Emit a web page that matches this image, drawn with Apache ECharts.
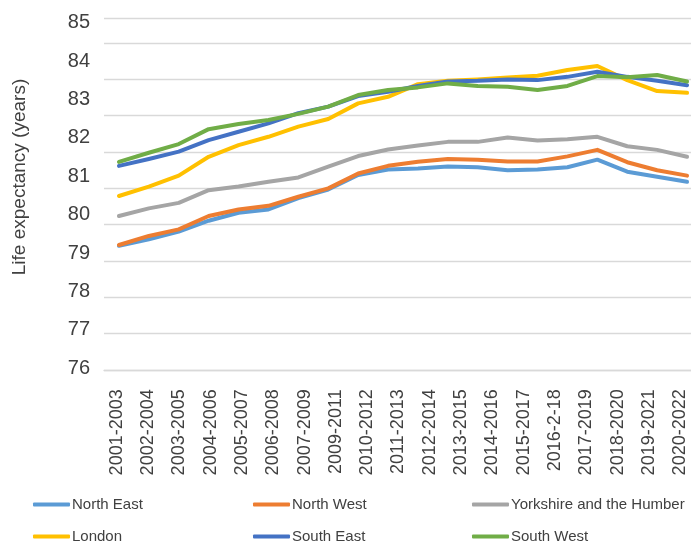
<!DOCTYPE html>
<html>
<head>
<meta charset="utf-8">
<script src="https://cdn.jsdelivr.net/npm/echarts@6/dist/echarts.min.js"></script>
<style>
html, body { margin: 0; padding: 0; background: #fff; }
#chart { width: 691px; height: 547px; }
</style>
</head>
<body>
<div id="chart"></div>
<script>
// periods the values belong to (20 of them)
const periods = ['2001-2003', '2002-2004', '2003-2005', '2004-2006', '2005-2007', '2006-2008', '2007-2009',
	'2008-2010', '2009-2011', '2010-2012', '2011-2013', '2012-2014', '2013-2015', '2014-2016', '2015-2017',
	'2016-2018', '2017-2019', '2018-2020', '2019-2021', '2020-2022']
// labels printed under the axis (the source skips 2008-2010)
const tickLabels = ['2001-2003', '2002-2004', '2003-2005', '2004-2006', '2005-2007', '2006-2008', '2007-2009',
	'2009-2011', '2010-2012', '2011-2013', '2012-2014', '2013-2015', '2014-2016', '2015-2017', '2016-2-18',
	'2017-2019', '2018-2020', '2019-2021', '2020-2022']

const northEast = [79.42, 79.6, 79.81, 80.11, 80.33, 80.42, 80.73, 80.97, 81.37, 81.52,
	81.55, 81.6, 81.58, 81.5, 81.52, 81.58, 81.79, 81.46, 81.32, 81.18]
const northWest = [79.44, 79.69, 79.87, 80.24, 80.42, 80.52, 80.77, 81.0, 81.41, 81.62,
	81.73, 81.81, 81.79, 81.74, 81.74, 81.88, 82.06, 81.72, 81.5, 81.35]
const yorkshire = [80.24, 80.45, 80.6, 80.95, 81.05, 81.18, 81.3, 81.6, 81.89, 82.07,
	82.18, 82.28, 82.28, 82.4, 82.32, 82.35, 82.42, 82.16, 82.06, 81.87]
const london = [80.79, 81.05, 81.35, 81.87, 82.19, 82.42, 82.7, 82.91, 83.34, 83.52,
	83.87, 83.96, 84.0, 84.05, 84.1, 84.26, 84.37, 83.98, 83.68, 83.63]
const southEast = [81.62, 81.81, 82.01, 82.33, 82.56, 82.79, 83.07, 83.25, 83.54, 83.66,
	83.82, 83.94, 83.96, 84.0, 83.98, 84.07, 84.21, 84.07, 83.96, 83.84]
const southWest = [81.73, 81.98, 82.22, 82.63, 82.77, 82.88, 83.05, 83.25, 83.57, 83.71,
	83.78, 83.89, 83.82, 83.8, 83.71, 83.82, 84.09, 84.06, 84.12, 83.94]

const yMin = 76
const yMax = 85

const regions = [
	{ name: 'North East', data: northEast, color: '#5B9BD5' },
	{ name: 'North West', data: northWest, color: '#ED7D31' },
	{ name: 'Yorkshire and the Humber', data: yorkshire, color: '#A5A5A5' },
	{ name: 'London', data: london, color: '#FFC000' },
	{ name: 'South East', data: southEast, color: '#4472C4' },
	{ name: 'South West', data: southWest, color: '#70AD47' },
]

const textColor = '#404040'
const gridColor = '#d9d9d9'

// legend slots: three columns, two rows
const legendLeft = [33, 253, 472]
const legendTop = [497, 529]

const chart = echarts.init(document.getElementById('chart'), null, { renderer: 'canvas' })

chart.setOption({
	animation: false,
	backgroundColor: '#fff',
	textStyle: { fontFamily: 'Liberation Sans, Arial, sans-serif' },
	grid: [
		// plot area for the lines (runs past the right edge, like the source crop)
		{ left: 104, top: 18, width: 598, height: 352, outerBoundsMode: 'none' },
		// grid that only carries the printed tick labels
		{ left: 101, top: 22.7, width: 595, height: 345.6, outerBoundsMode: 'none' },
	],
	xAxis: [
		{
			gridIndex: 0,
			type: 'category',
			data: periods,
			boundaryGap: true,
			axisLine: { lineStyle: { color: gridColor, width: 1.3 } },
			axisTick: { show: false },
			axisLabel: { show: false },
		},
		{
			gridIndex: 1,
			type: 'category',
			data: tickLabels,
			boundaryGap: true,
			axisLine: { show: false },
			axisTick: { show: false },
			axisLabel: { interval: 0, rotate: 90, margin: 21, fontSize: 18, color: textColor },
		},
	],
	yAxis: [
		{
			gridIndex: 0,
			type: 'value',
			min: yMin,
			max: 85.69,
			interval: 1,
			axisLine: { show: false },
			axisTick: { show: false },
			axisLabel: { show: false },
			splitLine: { lineStyle: { color: gridColor, width: 1.3 } },
		},
		{
			gridIndex: 1,
			type: 'value',
			min: yMin,
			max: yMax,
			interval: 1,
			axisLine: { show: false },
			axisTick: { show: false },
			splitLine: { show: false },
			axisLabel: { fontSize: 20, color: textColor, margin: 11 },
		},
	],
	legend: regions.map((r, i) => ({
		data: [r.name],
		left: legendLeft[i % 3],
		top: legendTop[Math.floor(i / 3)],
		padding: 0,
		icon: 'roundRect',
		itemWidth: 37,
		itemHeight: 4,
		itemGap: 0,
		textStyle: { fontSize: 15, color: textColor, padding: [0, 0, 0, -3] },
	})),
	graphic: [
		{
			type: 'text',
			x: 20,
			y: 177,
			rotation: Math.PI / 2,
			style: {
				text: 'Life expectancy (years)',
				fontSize: 19,
				fill: textColor,
				fontFamily: 'Liberation Sans, Arial, sans-serif',
				textAlign: 'center',
				textVerticalAlign: 'middle',
			},
		},
	],
	series: regions.map((r) => ({
		name: r.name,
		type: 'line',
		xAxisIndex: 0,
		yAxisIndex: 0,
		data: r.data,
		symbol: 'none',
		color: r.color,
		lineStyle: { width: 4, color: r.color, cap: 'round', join: 'round' },
	})),
})
</script>
</body>
</html>
